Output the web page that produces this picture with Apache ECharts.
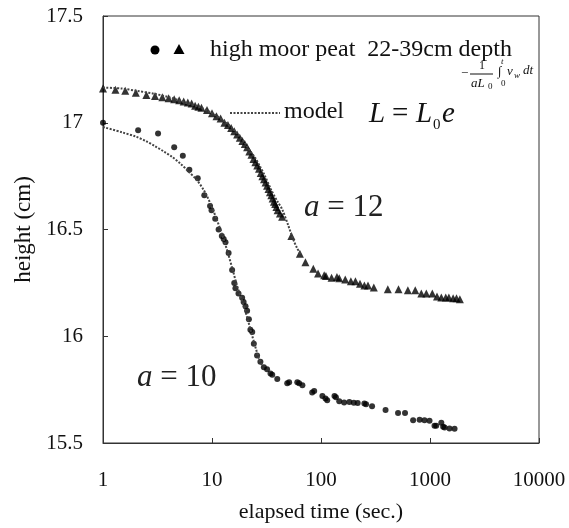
<!DOCTYPE html>
<html>
<head>
<meta charset="utf-8">
<script src="https://cdn.jsdelivr.net/npm/echarts@6/dist/echarts.min.js"></script>
<style>
html,body{margin:0;padding:0;background:#fff;}
#main{width:569px;height:528px;}
</style>
</head>
<body>
<div id="main"></div>
<script>
// ---- data ----
const xTickLabels = ['1', '10', '100', '1000', '10000'];
const yTickLabels = ['15.5', '16', '16.5', '17', '17.5'];

// a = 12 measurements (triangles)
const triTime = [1, 1.3, 1.6, 2.0, 2.5, 3.0, 3.5, 4.0, 4.5, 5.0, 5.5, 6.0, 6.5, 7.0, 7.5, 8.0, 9.0, 10, 11, 12, 13, 14, 15, 16, 17, 18, 19, 20, 21, 22, 23, 24, 25, 26, 27, 28, 29, 30, 31, 32, 33, 34, 35, 36, 37, 38, 39, 40, 42, 44,
  53.5, 64, 72, 85, 94, 107, 111, 125, 140, 147, 167, 188, 207, 228, 250, 270, 305, 410, 514, 627, 732, 832, 925, 1050, 1160, 1270, 1395, 1490, 1630, 1750, 1880];
const triHeight = [17.16, 17.155, 17.15, 17.14, 17.13, 17.125, 17.12, 17.115, 17.11, 17.105, 17.10, 17.095, 17.09, 17.08, 17.075, 17.07, 17.06, 17.045, 17.03, 17.02, 17.00, 16.99, 16.975, 16.96, 16.945, 16.93, 16.915, 16.90, 16.885, 16.865, 16.85, 16.83, 16.815, 16.80, 16.785, 16.765, 16.75, 16.735, 16.72, 16.705, 16.69, 16.675, 16.66, 16.645, 16.63, 16.62, 16.605, 16.59, 16.575, 16.56,
  16.47, 16.386, 16.347, 16.316, 16.294, 16.286, 16.282, 16.274, 16.277, 16.272, 16.266, 16.258, 16.258, 16.246, 16.238, 16.238, 16.228, 16.22, 16.22, 16.215, 16.215, 16.20, 16.20, 16.20, 16.186, 16.181, 16.181, 16.181, 16.178, 16.178, 16.173];

// a = 10 measurements (circles)
const circTime = [1.0, 2.1, 3.2, 4.5, 5.4, 6.2, 7.4, 8.5, 9.6, 9.9, 10.7, 11.5, 12.3, 12.8, 13.3, 14.2, 15.3, 16.0, 16.4, 17.5, 18.9, 19.5, 20.3, 21.0, 21.8, 22.5, 23.4, 24.2, 25.9, 27.8, 29.9, 32.0, 34.4, 35.7, 39.7, 49.0, 51, 60.6, 63, 67.5, 83.0, 86.6, 103, 110, 114, 133, 137, 147, 163, 182, 200, 217, 250, 259, 294, 391, 509, 590, 700, 803, 890, 990, 1100, 1140, 1270, 1320, 1360, 1510, 1680];
const circHeight = [17.00, 16.965, 16.95, 16.885, 16.845, 16.78, 16.74, 16.66, 16.61, 16.59, 16.55, 16.50, 16.47, 16.455, 16.44, 16.39, 16.31, 16.25, 16.225, 16.20, 16.18, 16.16, 16.14, 16.12, 16.08, 16.03, 16.02, 15.965, 15.91, 15.88, 15.855, 15.845, 15.825, 15.82, 15.80, 15.78, 15.784, 15.784, 15.78, 15.771, 15.737, 15.744, 15.72, 15.709, 15.70, 15.72, 15.714, 15.695, 15.69, 15.692, 15.688, 15.687, 15.685, 15.682, 15.672, 15.655, 15.64, 15.64, 15.607, 15.609, 15.606, 15.604, 15.581, 15.581, 15.595, 15.576, 15.573, 15.568, 15.567];

// model curves
const model12Time = [1, 1.5, 2, 3, 4, 5, 6, 7, 8, 10, 12, 15, 18, 20, 22.5, 25, 27.6, 30, 35, 40, 44, 50, 55, 60, 65];
const model12Height = [17.165, 17.16, 17.15, 17.135, 17.12, 17.105, 17.09, 17.08, 17.07, 17.045, 17.02, 16.98, 16.935, 16.905, 16.865, 16.835, 16.795, 16.76, 16.685, 16.63, 16.595, 16.52, 16.46, 16.415, 16.385];
const model10Time = [1, 1.5, 2, 2.5, 3, 3.6, 4.3, 5.1, 6, 7.3, 8.5, 9.7, 11, 12.5, 14, 15.5, 17, 18.5, 20, 21.5, 23, 25, 27, 29];
const model10Height = [16.98, 16.955, 16.935, 16.913, 16.89, 16.866, 16.84, 16.81, 16.775, 16.73, 16.68, 16.62, 16.55, 16.47, 16.39, 16.31, 16.235, 16.18, 16.125, 16.07, 16.015, 15.95, 15.895, 15.86];

const legendText = 'high moor peat  22-39cm depth';
const modelText = 'model';

const pair = (xs, ys) => xs.map((x, i) => [x, ys[i]]);
const FONT = '"Liberation Serif", "DejaVu Serif", serif';

const chart = echarts.init(document.getElementById('main'), null, {renderer: 'canvas'});
const txt = (x, y, text, size, opts) => Object.assign({
  type: 'text', x: x, y: y, z: 100,
  style: Object.assign({text: text, fontFamily: FONT, fontSize: size, fill: '#111', verticalAlign: 'middle'}, opts || {})
});

const option = {
  animation: false,
  backgroundColor: '#fff',
  grid: {left: 103, right: 30, top: 16, bottom: 83, show: true, borderColor: '#333', borderWidth: 1},
  xAxis: {
    type: 'log', logBase: 10, min: 1, max: 10000,
    name: 'elapsed time (sec.)', nameLocation: 'middle', nameGap: 58,
    nameTextStyle: {fontFamily: FONT, fontSize: 22, color: '#111'},
    axisLine: {lineStyle: {color: '#333', width: 1}},
    axisTick: {inside: true, length: 5, lineStyle: {color: '#333'}},
    minorTick: {show: false},
    splitLine: {show: false},
    axisLabel: {margin: 27, fontFamily: FONT, fontSize: 21, color: '#111',
      formatter: v => xTickLabels[Math.round(Math.log10(v))]}
  },
  yAxis: {
    type: 'value', min: 15.5, max: 17.5, interval: 0.5,
    name: 'height (cm)', nameLocation: 'middle', nameGap: 66, nameRotate: 90,
    nameTextStyle: {fontFamily: FONT, fontSize: 23, color: '#111'},
    axisLine: {show: true, lineStyle: {color: '#333', width: 1}},
    axisTick: {show: true, inside: true, length: 5, lineStyle: {color: '#333'}},
    splitLine: {show: false},
    axisLabel: {margin: 20, fontFamily: FONT, fontSize: 21, color: '#111',
      formatter: v => yTickLabels[Math.round((v - 15.5) / 0.5)]}
  },
  series: [
    {type: 'scatter', name: 'a12', data: pair(triTime, triHeight), symbol: 'triangle', symbolSize: 8,
      itemStyle: {color: '#000'}},
    {type: 'scatter', name: 'a10', data: pair(circTime, circHeight), symbol: 'circle', symbolSize: 6,
      itemStyle: {color: '#000'}},
    {type: 'line', name: 'model12', data: pair(model12Time, model12Height), symbol: 'none', smooth: 0.3,
      lineStyle: {color: '#444', width: 2, type: [2, 1.5]}, z: 3},
    {type: 'line', name: 'model10', data: pair(model10Time, model10Height), symbol: 'none', smooth: 0.3,
      lineStyle: {color: '#444', width: 2, type: [2, 1.5]}, z: 3}
  ],
  graphic: [
    // legend row 1
    {type: 'circle', shape: {cx: 155, cy: 50, r: 4.5}, style: {fill: '#000'}, z: 100},
    {type: 'polygon', shape: {points: [[179, 44], [184.5, 54], [173.5, 54]]}, style: {fill: '#000'}, z: 100},
    txt(210, 50, legendText, 24),
    // legend row 2
    {type: 'line', shape: {x1: 230, y1: 113, x2: 280, y2: 113}, style: {stroke: '#444', lineWidth: 2, lineDash: [2, 1.5]}, z: 100},
    txt(284, 112, modelText, 24),
    // formula  L = L0 e^{-1/(aL0) ∫0^t v_w dt}
    txt(369, 114, 'L', 29, {fontStyle: 'italic'}),
    txt(392, 114, '=', 29),
    txt(416, 114, 'L', 29, {fontStyle: 'italic'}),
    txt(433, 125, '0', 15),
    txt(442, 114, 'e', 29, {fontStyle: 'italic'}),
    txt(461, 74, '\u2212', 13),
    txt(479, 66, '1', 12),
    {type: 'line', shape: {x1: 470, y1: 74, x2: 493, y2: 74}, style: {stroke: '#111', lineWidth: 1}, z: 100},
    txt(471, 84, 'aL', 13, {fontStyle: 'italic'}),
    txt(488, 87, '0', 9),
    txt(498, 72, '\u222B', 13),
    txt(501, 62, 't', 9, {fontStyle: 'italic'}),
    txt(501, 84, '0', 9),
    txt(507, 72, 'v', 13, {fontStyle: 'italic'}),
    txt(514, 76, 'w', 9, {fontStyle: 'italic'}),
    txt(523, 71, 'dt', 13, {fontStyle: 'italic'}),
    // annotations
    {type: 'text', x: 304, y: 208, z: 100, style: {text: '{i|a} = 12', fontFamily: FONT, fontSize: 31, fill: '#222', verticalAlign: 'middle',
      rich: {i: {fontStyle: 'italic', fontFamily: FONT, fontSize: 31, fill: '#222'}}}},
    {type: 'text', x: 137, y: 378, z: 100, style: {text: '{i|a} = 10', fontFamily: FONT, fontSize: 31, fill: '#222', verticalAlign: 'middle',
      rich: {i: {fontStyle: 'italic', fontFamily: FONT, fontSize: 31, fill: '#222'}}}}
  ]
};
chart.setOption(option);
</script>
</body>
</html>
